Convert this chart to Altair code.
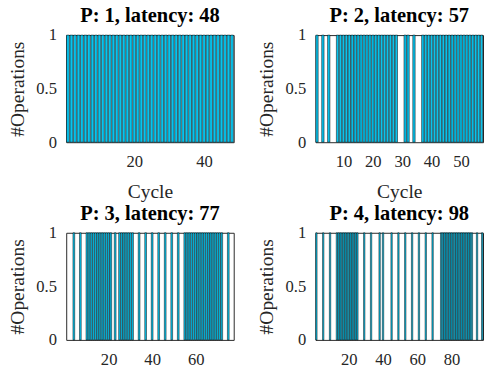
import altair as alt
import pandas as pd

titles = ["P: 1, latency: 48", "P: 2, latency: 57", "P: 3, latency: 77", "P: 4, latency: 98"]
latencies = [48, 57, 77, 98]

ops_p1 = [1, 2, 3, 4, 5, 6, 7, 8, 9, 10, 11, 12, 13, 14, 15, 16, 17, 18, 19, 20,
          21, 22, 23, 24, 25, 26, 27, 28, 29, 30, 31, 32, 33, 34, 35, 36, 37, 38, 39, 40,
          41, 42, 43, 44, 45, 46, 47, 48]
ops_p2 = [1, 3, 5, 8, 9, 10, 11, 12, 13, 14, 15, 16, 17, 18, 19, 20, 21, 22, 23, 24,
          25, 26, 27, 28, 31, 32, 34, 37, 38, 39, 40, 41, 42, 43, 44, 45, 46, 47, 48, 49,
          50, 51, 52, 53, 54, 55, 56, 57]
ops_p3 = [4, 7, 10, 11, 12, 13, 14, 15, 16, 17, 18, 19, 20, 21, 23, 25, 26, 27, 28, 29,
          30, 31, 34, 37, 40, 43, 46, 49, 52, 55, 56, 57, 58, 59, 60, 61, 62, 63, 64, 65,
          66, 67, 68, 69, 70, 71, 72, 75]
ops_p4 = [1, 5, 9, 13, 14, 15, 16, 17, 18, 19, 20, 21, 22, 23, 24, 25, 29, 33, 38, 40,
          45, 49, 53, 57, 61, 65, 69, 74, 75, 76, 77, 78, 79, 80, 81, 82, 83, 84, 85, 86,
          87, 88, 89, 90, 91, 92, 95, 98]
ops_all = [ops_p1, ops_p2, ops_p3, ops_p4]

x_ticks = [[20, 40], [10, 20, 30, 40, 50], [20, 40, 60], [20, 40, 60, 80]]
y_ticks = [0, 0.5, 1]
show_xtitle = [True, True, False, False]

FONT = "Liberation Serif"
BAR = "#08c4ee"
FRAME = "#262626"


def panel(i):
    n = latencies[i]
    df = pd.DataFrame({"cycle": ops_all[i], "ops": [1] * len(ops_all[i])})
    xaxis = alt.Axis(values=x_ticks[i], title="Cycle" if show_xtitle[i] else None,
                     grid=False, domain=False, ticks=False, labelPadding=12,
                     labelFont=FONT, labelFontSize=17, labelColor=FRAME,
                     titleFont=FONT, titleFontSize=20, titleFontWeight="normal",
                     titleColor=FRAME, titlePadding=13)
    yaxis = alt.Axis(values=y_ticks, title="#Operations", labelExpr="datum.value",
                     grid=False, domain=False, ticks=False, labelPadding=10,
                     labelFont=FONT, labelFontSize=17, labelColor=FRAME,
                     titleFont=FONT, titleFontSize=20, titleFontWeight="normal",
                     titleColor=FRAME, titlePadding=9)
    return (
        alt.Chart(df)
        .transform_calculate(x0="datum.cycle - 0.4", x1="datum.cycle + 0.4")
        .mark_bar(color=BAR, stroke="black", strokeWidth=0.5)
        .encode(
            x=alt.X("x0:Q", scale=alt.Scale(domain=[0.5, n + 0.5], nice=False, zero=False), axis=xaxis),
            x2="x1:Q",
            y=alt.Y("ops:Q", scale=alt.Scale(domain=[0, 1], nice=False), axis=yaxis),
            y2=alt.datum(0),
        )
        .properties(
            width=172, height=110,
            title=alt.TitleParams(titles[i], font=FONT, fontSize=21, fontWeight="bold",
                                  color="black", offset=0, anchor="middle"),
        )
    )


top = alt.hconcat(panel(0), panel(1), spacing=22)
bottom = alt.hconcat(panel(2), panel(3), spacing=22)
chart = (
    alt.vconcat(top, bottom, spacing=0)
    .properties(padding={"left": 7, "top": 0, "right": 0, "bottom": 2}, background="white")
    .configure_view(stroke=FRAME, strokeWidth=1)
    .configure_title(font=FONT, fontSize=21, fontWeight="bold", color="black")
)

chart.save("out.html", embed_options={"renderer": "svg", "actions": False})
